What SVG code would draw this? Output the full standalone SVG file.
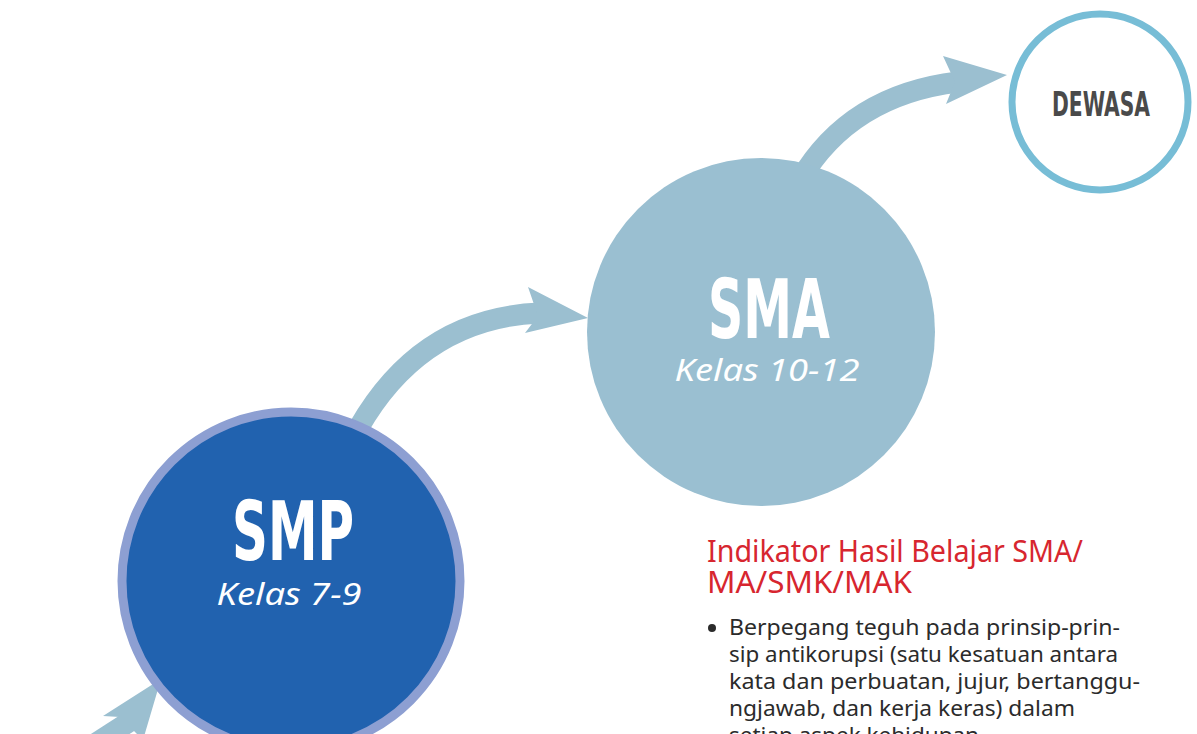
<svg xmlns="http://www.w3.org/2000/svg" width="1197" height="734" viewBox="0 0 1197 734">
<style>
.shaft{fill:none;stroke:#9BBFD0;stroke-width:21}
.head{fill:#9BBFD0}
.big{font-family:"DejaVu Sans Condensed","Liberation Sans",sans-serif;font-weight:bold;fill:#fff;text-anchor:middle}
.kelas{font-family:"Noto Sans","Liberation Sans",sans-serif;font-style:italic;fill:#fff;font-size:30px;text-anchor:middle}
.head-red{font-family:"Noto Sans","Liberation Sans",sans-serif;fill:#D7262F;font-size:30px}
.body{font-family:"Noto Sans","Liberation Sans",sans-serif;fill:#2b2b2b;font-size:22.5px}
</style>
<rect width="1197" height="734" fill="#fff"/>
<g id="connectors">
  <path class="shaft" d="M352 440 Q415 318 540 313"/>
  <polygon class="head" points="528,287 588,318 525,333 538,316"/>
  <path class="shaft" d="M800 180 Q850 95 958 82"/>
  <polygon class="head" points="943,56 1007,75 946,104 955,82"/>
  <path class="shaft" d="M70 760 L135 718"/>
  <polygon class="head" points="161,679 103,716 120,717 143,740"/>
</g>
<g id="smp">
  <circle cx="291" cy="581" r="169" fill="#2162AF" stroke="#8D9FD2" stroke-width="9"/>
  <text class="big" x="293" y="560" font-size="82" textLength="122" lengthAdjust="spacingAndGlyphs">SMP</text>
  <text class="kelas" x="289" y="605" textLength="145" lengthAdjust="spacingAndGlyphs">Kelas 7-9</text>
</g>
<g id="sma">
  <circle cx="761" cy="332" r="174" fill="#9ABFD1"/>
  <text class="big" x="769" y="338" font-size="82" textLength="122" lengthAdjust="spacingAndGlyphs">SMA</text>
  <text class="kelas" x="767" y="381" textLength="185" lengthAdjust="spacingAndGlyphs">Kelas 10-12</text>
</g>
<g id="dewasa">
  <circle cx="1100" cy="102" r="88" fill="#fff" stroke="#77BDD6" stroke-width="7"/>
  <text class="big" x="1101" y="116" font-size="33" style="fill:#4a4a4a" textLength="98" lengthAdjust="spacingAndGlyphs">DEWASA</text>
</g>
<g id="indikator">
  <text class="head-red" x="707" y="562" textLength="376" lengthAdjust="spacingAndGlyphs">Indikator Hasil Belajar SMA/</text>
  <text class="head-red" x="707" y="593" textLength="205" lengthAdjust="spacingAndGlyphs">MA/SMK/MAK</text>
  <circle cx="712" cy="628" r="4" fill="#2b2b2b"/>
  <text class="body" x="729" y="635" textLength="391" lengthAdjust="spacingAndGlyphs">Berpegang teguh pada prinsip-prin-</text>
  <text class="body" x="729" y="662" textLength="389" lengthAdjust="spacingAndGlyphs">sip antikorupsi (satu kesatuan antara</text>
  <text class="body" x="729" y="689" textLength="411" lengthAdjust="spacingAndGlyphs">kata dan perbuatan, jujur, bertanggu-</text>
  <text class="body" x="729" y="716" textLength="346" lengthAdjust="spacingAndGlyphs">ngjawab, dan kerja keras) dalam</text>
  <text class="body" x="729" y="743">setiap aspek kehidupan</text>
</g>
</svg>
